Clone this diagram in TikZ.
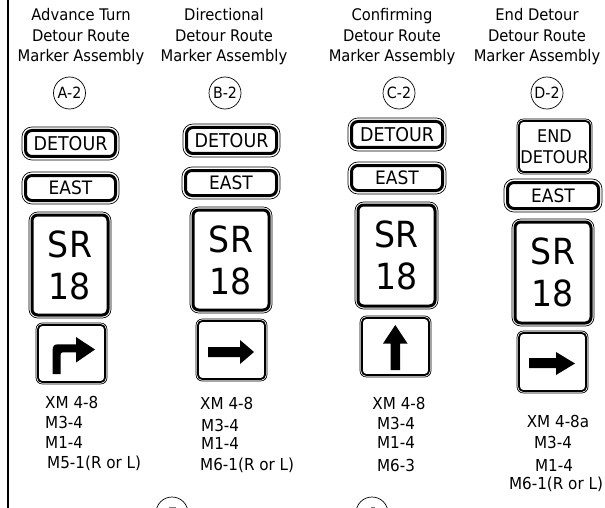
\documentclass[tikz,border=0pt]{standalone}
\usepackage{fontspec}
\setmainfont{DejaVu Sans}[FakeStretch=0.92]
\newcommand{\signbox}[9]{% name,x1,y1,x2,y2,inset,lw,fontsize,text
  \pgfmathsetmacro{\rin}{#6*1.4+1.5}\pgfmathsetmacro{\rout}{\rin+#6}
  \node[signface,line width=#7,rounded corners=\rin pt,
    minimum width={(#4-#2-2*#6)*1pt},minimum height={(#5-#3-2*#6)*1pt},
    font=\fontsize{#8}{#8}\selectfont] (#1) at ({(#2+#4)/2},{(#3+#5)/2}) {#9};
  \draw[signrim,rounded corners=\rout pt] (#2,#3) rectangle (#4,#5);}
\tikzset{
  signface/.style={draw=black,fill=white,inner sep=0pt,outer sep=0pt,align=center},
  signrim/.style={draw=black,line width=0.7pt},
  head/.style={font=\fontsize{16}{16}\selectfont,inner sep=0pt,anchor=base},
  code/.style={font=\fontsize{16.5}{16.5}\selectfont,inner sep=0pt,anchor=base},
  tag/.style={circle,draw=black,line width=0.7pt,minimum size=32pt,inner sep=0pt,font=\fontsize{15.5}{15.5}\selectfont},
  arrowfill/.style={fill=black,draw=none}
}
\begin{document}
\begin{tikzpicture}[x=1pt,y=-1pt]
\useasboundingbox (0,0) rectangle (605,508);
\clip (0,0) rectangle (605,508);
\fill[white] (0,0) rectangle (605,508);
\draw[black,line width=1.5pt] (8,0) -- (8,508);
% headings
\node[head] (a1) at (81,21) {Advance Turn};
\node[head] (a2) at (81,42) {Detour Route};
\node[head] (a3) at (81,62) {Marker Assembly};
\node[head] (b1) at (224,21) {Directional};
\node[head] (b2) at (224,42) {Detour Route};
\node[head] (b3) at (224,62) {Marker Assembly};
\node[head] (c1) at (392,21) {Confirming};
\node[head] (c2) at (392,42) {Detour Route};
\node[head] (c3) at (392,62) {Marker Assembly};
\node[head] (d1) at (537,21) {End Detour};
\node[head] (d2) at (537,42) {Detour Route};
\node[head] (d3) at (537,62) {Marker Assembly};
% tags
\node[tag] (ta) at (69.5,93) {A-2};
\node[tag] (tb) at (225,93) {B-2};
\node[tag] (tc) at (399,93) {C-2};
\node[tag] (td) at (547,93) {D-2};
\node[tag] (te) at (172,513) {};
\node[tag] (tf) at (372,513) {};
\draw[gray,line width=0.8pt] (169,507.5) -- (176,507.5);
\draw[gray,line width=0.8pt] (371,507.5) -- (375,507.5);
% column A
\signbox{adet}{22}{127}{119}{160}{3.5}{3pt}{19}{DETOUR}
\signbox{aeast}{22}{172}{119}{204}{3.5}{3pt}{18.5}{EAST}
\signbox{asr}{29}{212}{111}{318}{3}{3pt}{36}{SR\\[6pt]18}
\signbox{aarr}{36}{323}{107}{384}{2}{1.8pt}{1}{}
\fill[arrowfill] (52.7,374) -- (52.7,349.5) .. controls (52.7,346) and (54.5,344.3) .. (58,344.3) -- (76,344.3) -- (76,337) -- (95,349.5) -- (76,362.5) -- (76,352.3) -- (63,352.3) .. controls (61.5,352.3) and (60.7,353) .. (60.7,354.5) -- (60.7,374) -- cycle;
\node[code,anchor=base west] (ax1) at (45,408.5) {XM 4-8};
\node[code,anchor=base west] (ax2) at (45,428.5) {M3-4};
\node[code,anchor=base west] (ax3) at (45,448.5) {M1-4};
\node[code,anchor=base west] (ax4) at (47,468.5) {M5-1(R or L)};
% column B
\signbox{bdet}{183}{124}{280}{157}{3.5}{3pt}{19}{DETOUR}
\signbox{beast}{182}{167}{280}{199}{3.5}{3pt}{18.5}{EAST}
\signbox{bsr}{190}{207}{272}{313}{3}{3pt}{36}{SR\\[6pt]18}
\signbox{barr}{196}{319}{267}{381}{2}{1.8pt}{1}{}
\fill[arrowfill] (208,347) -- (240,347) -- (240,340) -- (254,352) -- (240,364) -- (240,357) -- (208,357) -- cycle;
\node[code,anchor=base west] (bx1) at (200,409.5) {XM 4-8};
\node[code,anchor=base west] (bx2) at (201,431) {M3-4};
\node[code,anchor=base west] (bx3) at (201,449.5) {M1-4};
\node[code,anchor=base west] (bx4) at (200,470.5) {M6-1(R or L)};
% column C
\signbox{cdet}{348}{118}{446}{151}{3.5}{3pt}{19}{DETOUR}
\signbox{ceast}{348}{162}{446}{194}{3.5}{3pt}{18.5}{EAST}
\signbox{csr}{355}{202}{438}{309}{3}{3pt}{36}{SR\\[6pt]18}
\signbox{carr}{360}{316}{431}{377}{2}{1.8pt}{1}{}
\fill[arrowfill] (395.3,325) -- (407.5,343.5) -- (400,343.5) -- (400,370) -- (390.7,370) -- (390.7,343.5) -- (383,343.5) -- cycle;
\node[code] (cx1) at (399,409.5) {XM 4-8};
\node[code] (cx2) at (396,429.5) {M3-4};
\node[code] (cx3) at (396,448.5) {M1-4};
\node[code] (cx4) at (396,471.5) {M6-3};
% column D
\signbox{ddet}{517}{119}{592}{174}{2}{1.8pt}{17.5}{END\\[3.5pt]DETOUR}
\signbox{deast}{504}{179}{602}{212}{3.5}{3pt}{18.5}{EAST}
\signbox{dsr}{512}{219}{594}{326}{3}{3pt}{36}{SR\\[6pt]18}
\signbox{darr}{517}{331}{588}{393}{2}{1.8pt}{1}{}
\fill[arrowfill] (529,358) -- (556,358) -- (556,352) -- (575,363.5) -- (556,375) -- (556,368) -- (529,368) -- cycle;
\node[code] (dx1) at (558,427.5) {XM 4-8a};
\node[code] (dx2) at (553,448.5) {M3-4};
\node[code] (dx3) at (554,471.5) {M1-4};
\node[code] (dx4) at (556,489.5) {M6-1(R or L)};
\end{tikzpicture}
\end{document}
